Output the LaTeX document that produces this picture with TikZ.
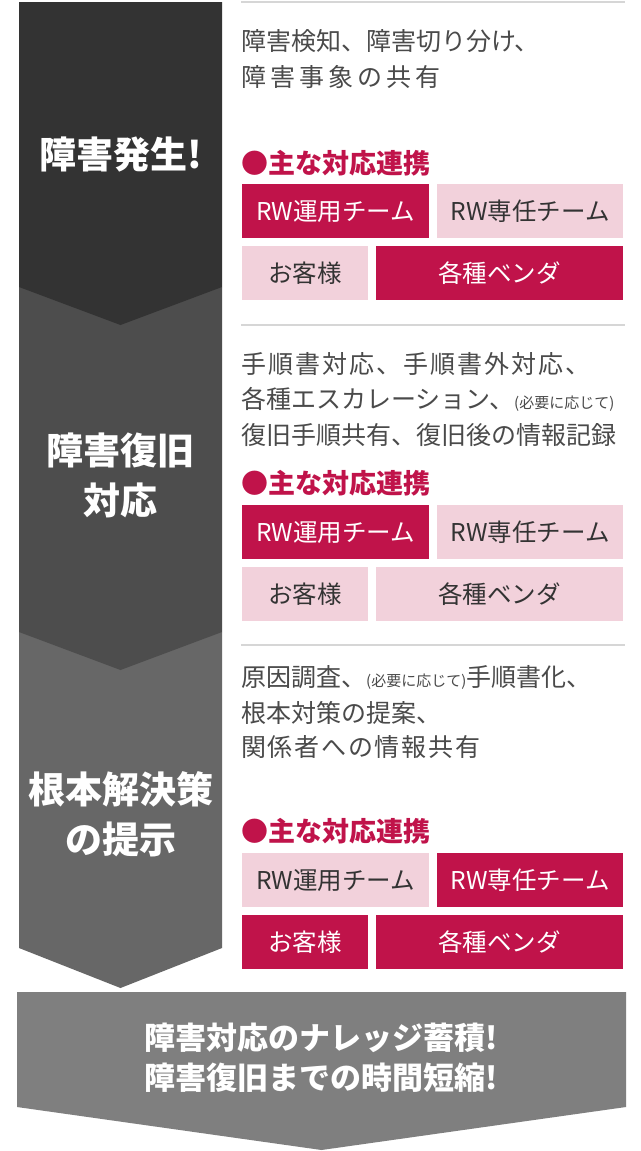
\documentclass[tikz,border=0pt]{standalone}
\usepackage{fontspec}
\setmainfont{Noto Sans CJK JP}
\usepackage{tikz}
\definecolor{stepone}{HTML}{333333}
\definecolor{steptwo}{HTML}{4D4D4D}
\definecolor{stepthree}{HTML}{676767}
\definecolor{resultgray}{HTML}{7F7F7F}
\definecolor{crimson}{HTML}{C0134A}
\definecolor{blush}{HTML}{F2D1DB}
\definecolor{desctext}{HTML}{4A4A4A}
\definecolor{teamtext}{HTML}{333333}
\definecolor{rulegray}{HTML}{D6D6D6}
\newcommand{\tracked}[2]{{\addfontfeatures{LetterSpace=#1}#2}}
\newcommand{\aside}[1]{{\fontsize{15}{17}\selectfont #1}}

\begin{document}
\begin{tikzpicture}[x=1pt, y=-1pt,
           stepname/.style={text=white, align=center, inner sep=0pt,
              font=\fontsize{37}{50}\selectfont\bfseries},
           resultname/.style={text=white, align=center, inner sep=0pt,
              font=\fontsize{31}{40}\selectfont\bfseries},
           desc/.style={anchor=west, inner sep=0pt, text=desctext,
              text height=22pt, text depth=3pt, font=\fontsize{25}{30}\selectfont},
           partner/.style={anchor=west, inner sep=0pt, text=crimson,
              text height=23pt, text depth=3pt, font=\fontsize{27}{30}\selectfont\bfseries},
           team/.style={anchor=north west, inner sep=0pt, minimum height=54pt,
              text height=21pt, text depth=3pt, font=\fontsize{24.5}{28}\selectfont},
           lead/.style={team, fill=crimson, text=white},
           assist/.style={team, fill=blush, text=teamtext},
           divider/.style={draw=rulegray, line width=1.5pt},
        ]
        \useasboundingbox[fill=white] (0,0) rectangle (640,1151);

        \fill[resultgray] (17,992) -- (626,992) -- (626,1107) -- (321.5,1150) -- (17,1107) -- cycle;
        \fill[stepthree] (19,632) -- (222,632) -- (222,948) -- (120.5,988) -- (19,948) -- cycle;
        \fill[steptwo] (19,287) -- (222,287) -- (222,632) -- (120.5,670) -- (19,632) -- cycle;
        \fill[stepone] (19,2) -- (222,2) -- (222,287) -- (120.5,325) -- (19,287) -- cycle;

        \node[stepname] (detect) at (120.5,155) {障害発生!};
        \node[stepname] (recover) at (120.5,475) {障害復旧\\対応};
        \node[stepname] (solve) at (120.5,814) {根本解決策\\の提示};
        \node[resultname] (result) at (321.5,1058) {障害対応のナレッジ蓄積!\\障害復旧までの時間短縮!};

        \draw[divider] (241,2) -- (625,2);
        \draw[divider] (241,325) -- (625,325);
        \draw[divider] (241,645) -- (625,645);

        \node[desc] (detecta) at (241,41) {障害検知、障害切り分け、};
        \node[desc] (detectb) at (241,77) {\tracked{16}{障害事象の共有}};
        \node[partner] (detectp) at (241,163) {●主な対応連携};
        \node[lead, minimum width=187pt] (detectops) at (242,184) {RW運用チーム};
        \node[assist, minimum width=186pt] (detectded) at (437,184) {RW専任チーム};
        \node[assist, minimum width=126pt] (detectcus) at (242,246) {お客様};
        \node[lead, minimum width=247pt] (detectven) at (376,246) {各種ベンダ};

        \node[desc] (recovera) at (241,364) {\tracked{8}{手順書対応、手順書外対応、}};
        \node[desc] (recoverb) at (241,399) {各種エスカレーション、\aside{(必要に応じて)}};
        \node[desc] (recoverc) at (241,435) {復旧手順共有、復旧後の情報記録};
        \node[partner] (recoverp) at (241,483) {●主な対応連携};
        \node[lead, minimum width=187pt] (recoverops) at (242,505) {RW運用チーム};
        \node[assist, minimum width=186pt] (recoverded) at (437,505) {RW専任チーム};
        \node[assist, minimum width=126pt] (recovercus) at (242,567) {お客様};
        \node[assist, minimum width=247pt] (recoverven) at (376,567) {各種ベンダ};

        \node[desc] (solvea) at (241,677) {原因調査、\aside{(必要に応じて)}手順書化、};
        \node[desc] (solveb) at (241,713) {根本対策の提案、};
        \node[desc] (solvec) at (241,747) {\tracked{7}{関係者への情報共有}};
        \node[partner] (solvep) at (241,831) {●主な対応連携};
        \node[assist, minimum width=187pt] (solveops) at (242,853) {RW運用チーム};
        \node[lead, minimum width=186pt] (solveded) at (437,853) {RW専任チーム};
        \node[lead, minimum width=126pt] (solvecus) at (242,915) {お客様};
        \node[lead, minimum width=247pt] (solveven) at (376,915) {各種ベンダ};
     \end{tikzpicture}
\end{document}
